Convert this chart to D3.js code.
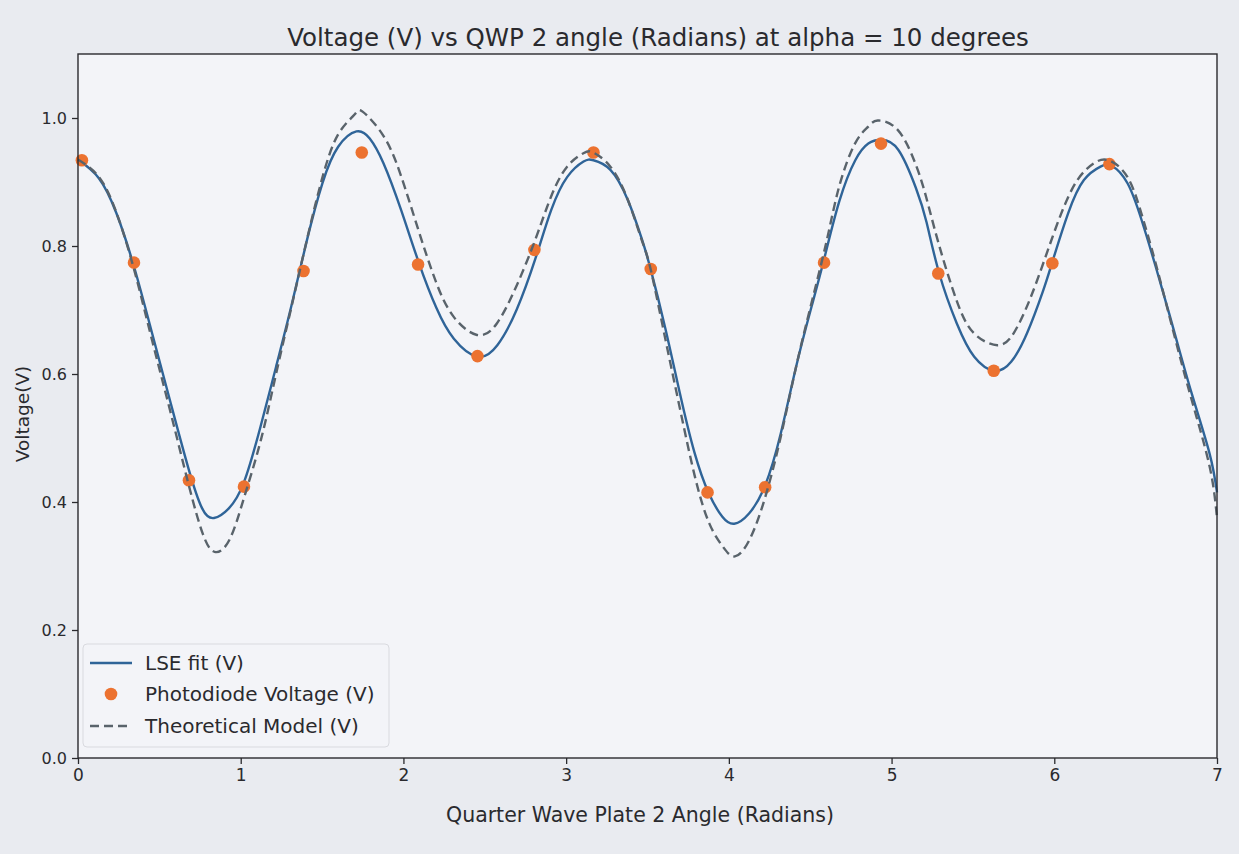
<!DOCTYPE html>
<html>
<head>
<meta charset="utf-8">
<script src="https://cdn.jsdelivr.net/npm/d3@7"></script>
<style>
  body { margin: 0; background: #e9ebf0; }
  text { font-family: "DejaVu Sans", sans-serif; fill: #2a2a2e; }
</style>
</head>
<body>
<svg id="chart" width="1239" height="854"></svg>
<script>
// photodiode readings (angle in radians, voltage in V)
var pointAngle = [0.024, 0.344, 0.682, 1.020, 1.386, 1.744, 2.090, 2.455, 2.805, 3.168,
  3.520, 3.869, 4.223, 4.585, 4.935, 5.287, 5.628, 5.988, 6.339];
var pointVolt = [0.934, 0.774, 0.434, 0.424, 0.761, 0.946, 0.771, 0.628, 0.794, 0.946,
  0.764, 0.415, 0.423, 0.774, 0.960, 0.757, 0.605, 0.773, 0.928];

// LSE fit
var fitAngle = [0, 0.128, 0.235, 0.344, 0.455, 0.565, 0.676, 0.763, 0.836, 0.927,
  1.020, 1.122, 1.217, 1.312, 1.406, 1.502, 1.599, 1.711, 1.793, 1.878,
  1.986, 2.096, 2.203, 2.310, 2.455, 2.577, 2.695, 2.812, 2.908, 3.007,
  3.107, 3.168, 3.272, 3.379, 3.465, 3.520, 3.609, 3.699, 3.788, 3.876,
  3.960, 4.033, 4.124, 4.223, 4.319, 4.413, 4.508, 4.584, 4.679, 4.777,
  4.857, 4.938, 5.042, 5.149, 5.215, 5.293, 5.401, 5.508, 5.632, 5.735,
  5.833, 5.930, 5.988, 6.085, 6.182, 6.284, 6.355, 6.450, 6.536, 6.623,
  6.734, 6.844, 6.954, 7.0];
var fitVolt = [0.935, 0.906, 0.852, 0.768, 0.664, 0.559, 0.455, 0.390, 0.375, 0.390,
  0.431, 0.518, 0.611, 0.707, 0.808, 0.898, 0.955, 0.979, 0.968, 0.929,
  0.856, 0.773, 0.703, 0.655, 0.627, 0.645, 0.700, 0.781, 0.856, 0.908,
  0.932, 0.934, 0.919, 0.872, 0.811, 0.763, 0.672, 0.570, 0.478, 0.414,
  0.377, 0.366, 0.382, 0.426, 0.507, 0.611, 0.705, 0.778, 0.870, 0.934,
  0.960, 0.966, 0.950, 0.891, 0.837, 0.757, 0.679, 0.627, 0.605, 0.619,
  0.664, 0.729, 0.775, 0.851, 0.903, 0.924, 0.925, 0.898, 0.841, 0.768,
  0.669, 0.570, 0.476, 0.415];

// theoretical model
var modelAngle = [0, 0.128, 0.235, 0.345, 0.455, 0.567, 0.678, 0.766, 0.840, 0.931,
  1.022, 1.124, 1.218, 1.312, 1.406, 1.501, 1.598, 1.698, 1.749, 1.875,
  1.982, 2.092, 2.200, 2.307, 2.452, 2.574, 2.692, 2.809, 2.907, 3.006,
  3.106, 3.167, 3.272, 3.378, 3.465, 3.520, 3.611, 3.701, 3.791, 3.879,
  3.964, 4.037, 4.127, 4.224, 4.319, 4.413, 4.507, 4.602, 4.678, 4.775,
  4.855, 4.915, 5.039, 5.146, 5.212, 5.289, 5.398, 5.505, 5.650, 5.751,
  5.849, 5.946, 6.043, 6.142, 6.242, 6.334, 6.449, 6.535, 6.623, 6.734,
  6.845, 6.955, 7.0];
var modelVolt = [0.935, 0.908, 0.853, 0.763, 0.653, 0.542, 0.429, 0.351, 0.322, 0.341,
  0.408, 0.497, 0.601, 0.705, 0.809, 0.906, 0.974, 1.005, 1.010, 0.973,
  0.912, 0.825, 0.744, 0.690, 0.661, 0.679, 0.736, 0.809, 0.877, 0.924,
  0.945, 0.946, 0.924, 0.873, 0.809, 0.763, 0.653, 0.544, 0.440, 0.367,
  0.330, 0.315, 0.341, 0.408, 0.502, 0.611, 0.710, 0.809, 0.893, 0.960,
  0.986, 0.996, 0.981, 0.929, 0.877, 0.804, 0.716, 0.664, 0.645, 0.664,
  0.716, 0.783, 0.851, 0.903, 0.929, 0.934, 0.908, 0.851, 0.773, 0.664,
  0.559, 0.455, 0.375];

var xTicks = [0, 1, 2, 3, 4, 5, 6, 7];
var yTicks = [0.0, 0.2, 0.4, 0.6, 0.8, 1.0];

var legendNames = ["LSE fit (V)", "Photodiode Voltage (V)", "Theoretical Model (V)"];

var blue = "#2f6498";
var orange = "#ec7230";
var grey = "#59636b";

var svg = d3.select("#chart");
var plotLeft = 78, plotRight = 1217, plotTop = 54, plotBottom = 758;

var x = d3.scaleLinear().domain([0, 7]).range([plotLeft, plotRight]);
var y = d3.scaleLinear().domain([0, 1.1]).range([plotBottom, plotTop]);

svg.append("rect").attr("width", 1239).attr("height", 854).attr("fill", "#e9ebf0");
svg.append("rect")
  .attr("x", plotLeft).attr("y", plotTop)
  .attr("width", plotRight - plotLeft).attr("height", plotBottom - plotTop)
  .attr("fill", "#f3f4f8");

var line = d3.line()
  .x(d => x(d[0]))
  .y(d => y(d[1]))
  .curve(d3.curveNatural);

var plot = svg.append("g");

plot.append("path")
  .datum(d3.zip(fitAngle, fitVolt))
  .attr("d", line)
  .attr("fill", "none")
  .attr("stroke", blue)
  .attr("stroke-width", 2.4);

plot.selectAll("circle.pt")
  .data(d3.zip(pointAngle, pointVolt))
  .join("circle")
  .attr("class", "pt")
  .attr("cx", d => x(d[0]))
  .attr("cy", d => y(d[1]))
  .attr("r", 6.3)
  .attr("fill", orange);

plot.append("path")
  .datum(d3.zip(modelAngle, modelVolt))
  .attr("d", line)
  .attr("fill", "none")
  .attr("stroke", grey)
  .attr("stroke-width", 2.4)
  .attr("stroke-dasharray", "9,5");

// axes
var xAxis = d3.axisBottom(x).tickValues(xTicks).tickFormat(d3.format("d")).tickSize(6).tickPadding(5);
var yAxis = d3.axisLeft(y).tickValues(yTicks).tickFormat(d3.format(".1f")).tickSize(6).tickPadding(5);

var gx = svg.append("g").attr("transform", "translate(0," + plotBottom + ")").call(xAxis);
var gy = svg.append("g").attr("transform", "translate(" + plotLeft + ",0)").call(yAxis);

[gx, gy].forEach(function (g) {
  g.select(".domain").remove();
  g.selectAll("line").attr("stroke", "#2a2a2e").attr("stroke-width", 1.3);
  g.selectAll("text").style("font-size", "16px").style("fill", "#2a2a2e");
});
gx.selectAll("text").style("font-size", "17px");

svg.append("rect")
  .attr("x", plotLeft).attr("y", plotTop)
  .attr("width", plotRight - plotLeft).attr("height", plotBottom - plotTop)
  .attr("fill", "none")
  .attr("stroke", "#2a2a2e")
  .attr("stroke-width", 1.4);

// labels
svg.append("text")
  .attr("x", 658).attr("y", 46)
  .attr("text-anchor", "middle")
  .style("font-size", "24.5px")
  .text("Voltage (V) vs QWP 2 angle (Radians) at alpha = 10 degrees");

svg.append("text")
  .attr("x", 640).attr("y", 822)
  .attr("text-anchor", "middle")
  .style("font-size", "20.5px")
  .text("Quarter Wave Plate 2 Angle (Radians)");

svg.append("text")
  .attr("transform", "translate(29,414) rotate(-90)")
  .attr("text-anchor", "middle")
  .style("font-size", "18.5px")
  .text("Voltage(V)");

// legend
var lg = svg.append("g");
lg.append("rect")
  .attr("x", 83).attr("y", 644)
  .attr("width", 306).attr("height", 103)
  .attr("rx", 4)
  .attr("fill", "#f3f4f8")
  .attr("stroke", "#d9dadf");

var rowY = [663, 694, 726];
legendNames.forEach(function (name, i) {
  var yy = rowY[i];
  if (i === 0) {
    lg.append("line").attr("x1", 90).attr("x2", 132).attr("y1", yy).attr("y2", yy)
      .attr("stroke", blue).attr("stroke-width", 2.4);
  } else if (i === 1) {
    lg.append("circle").attr("cx", 111).attr("cy", yy).attr("r", 6.3).attr("fill", orange);
  } else {
    lg.append("line").attr("x1", 90).attr("x2", 132).attr("y1", yy).attr("y2", yy)
      .attr("stroke", grey).attr("stroke-width", 2.4).attr("stroke-dasharray", "9,5");
  }
  lg.append("text")
    .attr("x", 145).attr("y", yy + 7)
    .style("font-size", "20px")
    .text(name);
});
</script>
</body>
</html>
